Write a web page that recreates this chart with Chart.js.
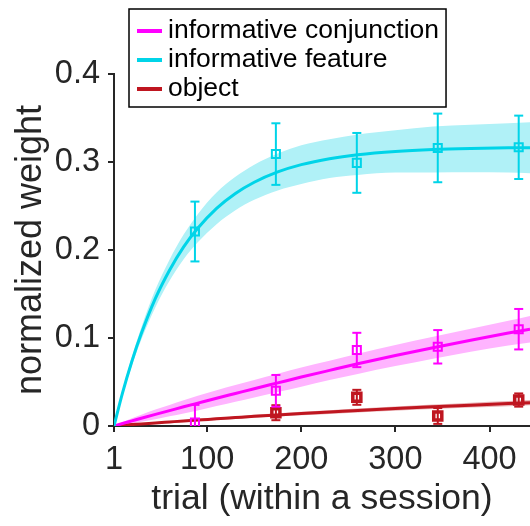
<!DOCTYPE html>
<html>
<head>
<meta charset="utf-8">
<script src="https://cdn.jsdelivr.net/npm/chart.js@4.4.1/dist/chart.umd.min.js"></script>
<style>
  html, body { margin: 0; padding: 0; background: #fff; }
  canvas { display: block; }
</style>
</head>
<body>
<canvas id="weightChart" width="530" height="526"></canvas>
<script>
// Fitted learning curves (trial grid) with confidence bands
const fitTrials = [1, 10, 20, 30, 45, 60, 75, 90, 110, 130, 150, 175, 200, 230, 260, 300, 340, 380, 420, 443];

const featureFit = [0, 0.0373, 0.0735, 0.105, 0.145, 0.177, 0.2035, 0.2247, 0.2473, 0.2642, 0.277, 0.2887, 0.297, 0.3038, 0.3083, 0.312, 0.3142, 0.3154, 0.3161, 0.3163];
const featureHi  = [0, 0.0403, 0.0785, 0.112, 0.155, 0.189, 0.2175, 0.2407, 0.2653, 0.2832, 0.297, 0.3097, 0.319, 0.3258, 0.3313, 0.336, 0.3402, 0.3424, 0.3441, 0.3453];
const featureLo  = [0, 0.0343, 0.0685, 0.098, 0.135, 0.165, 0.1895, 0.2087, 0.2293, 0.2452, 0.257, 0.2677, 0.275, 0.2818, 0.2853, 0.288, 0.2882, 0.2884, 0.2881, 0.2873];

const conjFit = [0, 0.0028, 0.0058, 0.0088, 0.0132, 0.0175, 0.0218, 0.026, 0.0316, 0.037, 0.0424, 0.049, 0.0556, 0.0632, 0.0707, 0.0801, 0.089, 0.0975, 0.1056, 0.110];
const conjHi  = [0, 0.0043, 0.0088, 0.0128, 0.0187, 0.024, 0.0293, 0.0345, 0.0406, 0.0465, 0.0524, 0.0595, 0.0666, 0.0742, 0.0822, 0.0921, 0.1015, 0.1105, 0.1196, 0.125];
const conjLo  = [0, 0.0013, 0.0028, 0.0048, 0.0077, 0.011, 0.0143, 0.0175, 0.0226, 0.0275, 0.0324, 0.0385, 0.0446, 0.0522, 0.0592, 0.0681, 0.0765, 0.0845, 0.0916, 0.095];

const objectFit = [0, 0.0008, 0.0016, 0.0023, 0.0035, 0.0046, 0.0057, 0.0067, 0.0082, 0.0096, 0.011, 0.0126, 0.0141, 0.0158, 0.0176, 0.0198, 0.0218, 0.0237, 0.0255, 0.0265];
const objectHi  = [0, 0.0011, 0.0021, 0.003, 0.0044, 0.0056, 0.0069, 0.008, 0.0097, 0.0112, 0.0127, 0.0145, 0.0161, 0.0179, 0.0198, 0.0222, 0.0244, 0.0265, 0.0285, 0.0295];
const objectLo  = [0, 0.0005, 0.0011, 0.0016, 0.0026, 0.0036, 0.0045, 0.0054, 0.0067, 0.008, 0.0093, 0.0107, 0.0121, 0.0137, 0.0154, 0.0174, 0.0192, 0.0209, 0.0225, 0.0235];

// Binned means +/- s.e.m.
const binTrials = [87, 173, 259, 345, 431];
const featureMean = [0.221, 0.309, 0.299, 0.316, 0.3167];
const featureErr  = [0.034, 0.035, 0.034, 0.039, 0.036];
const conjMean = [0.004, 0.040, 0.0864, 0.090, 0.110];
const conjErr  = [0.020, 0.018, 0.0195, 0.019, 0.023];
const objectMean = [null, 0.0151, 0.0326, 0.0114, 0.0295];
const objectErr  = [null, 0.0085, 0.0085, 0.009, 0.0075];

const xTickValues = [1, 100, 200, 300, 400];
const legendNames = ['informative conjunction', 'informative feature', 'object'];

const COL = {
    conj: '#ff00ff', conjBand: '#ffb4ff',
    feature: '#00d4e8', featureBand: '#b0f1f7',
    object: '#bf1620', objectBand: 'rgba(191,22,32,0.32)',
    axis: '#262626'
};
const legendColors = [COL.conj, COL.feature, COL.object];
const FONT = '"Liberation Sans", Arial, Helvetica, sans-serif';

const pts = (xs, ys) => xs.map((x, i) => ({ x, y: ys[i] }));

// vertical error bars: lo/hi pairs separated by gaps
const errorPts = (means, errs) => {
    const out = [];
    binTrials.forEach((x, i) => {
        if (means[i] === null) return;
        out.push({ x, y: means[i] - errs[i] }, { x, y: means[i] + errs[i] }, { x, y: null });
    });
    return out;
};

let order = 100;
const band = (hi, lo, color) => [
    { data: pts(fitTrials, hi), borderWidth: 0, pointRadius: 0, fill: false, cubicInterpolationMode: 'monotone', order: order-- },
    { data: pts(fitTrials, lo), borderWidth: 0, pointRadius: 0, fill: '-1', backgroundColor: color, cubicInterpolationMode: 'monotone', order: order-- }
];
const series = (fit, means, errs, color, markerWidth) => [
    { data: pts(fitTrials, fit), borderColor: color, borderWidth: 3, pointRadius: 0, cubicInterpolationMode: 'monotone', order: order-- },
    { data: errorPts(means, errs), borderColor: color, borderWidth: 2, spanGaps: false,
      pointStyle: 'line', pointRadius: 4.5, pointBorderWidth: 2, pointBorderColor: color,
      clip: { left: 10, right: 10, top: 10, bottom: 0 }, order: order-- },
    { data: pts(binTrials, means).filter(p => p.y !== null), showLine: false,
      pointStyle: 'rect', pointRadius: 5.7, pointBorderWidth: markerWidth, pointBorderColor: color,
      pointBackgroundColor: 'rgba(0,0,0,0)', clip: { left: 10, right: 10, top: 10, bottom: 0 }, order: order-- }
];

const datasets = [
    ...band(featureHi, featureLo, COL.featureBand),
    ...band(conjHi, conjLo, COL.conjBand),
    ...band(objectHi, objectLo, COL.objectBand),
    ...series(objectFit, objectMean, objectErr, COL.object, 3.5),
    ...series(conjFit, conjMean, conjErr, COL.conj, 2),
    ...series(featureFit, featureMean, featureErr, COL.feature, 2)
];

// boxed legend in the top-left corner
const boxLegend = {
    id: 'boxLegend',
    afterDraw(chart) {
        const ctx = chart.ctx;
        ctx.save();
        ctx.font = '26.5px ' + FONT;
        const textX = 168;
        const maxW = Math.max(...legendNames.map(n => ctx.measureText(n).width));
        const left = 129, top = 9, right = textX + maxW + 7, bottom = 107;
        ctx.fillStyle = '#fff';
        ctx.fillRect(left, top, right - left, bottom - top);
        ctx.strokeStyle = '#000';
        ctx.lineWidth = 1.5;
        ctx.strokeRect(left, top, right - left, bottom - top);
        const rows = [31, 60, 89];
        ctx.textBaseline = 'middle';
        legendNames.forEach((name, i) => {
            ctx.strokeStyle = legendColors[i];
            ctx.lineWidth = 4;
            ctx.beginPath();
            ctx.moveTo(137, rows[i]);
            ctx.lineTo(162, rows[i]);
            ctx.stroke();
            ctx.fillStyle = '#000';
            ctx.fillText(name, textX, rows[i]);
        });
        ctx.restore();
    }
};

const axisGrid = { display: true, drawOnChartArea: false, drawTicks: true, tickLength: 6, color: COL.axis, lineWidth: 2 };

new Chart(document.getElementById('weightChart'), {
    type: 'line',
    data: { datasets },
    options: {
        responsive: false,
        animation: false,
        layout: { autoPadding: false, padding: { top: 74, right: 0, bottom: 0, left: 0 } },
        plugins: { legend: { display: false }, tooltip: { enabled: false } },
        scales: {
            x: {
                type: 'linear', min: 1, max: 443,
                afterBuildTicks: s => { s.ticks = xTickValues.map(v => ({ value: v })); },
                afterFit: s => { s.height = 100; s.paddingLeft = 0; s.paddingRight = 0; },
                ticks: { font: { family: FONT, size: 32.5 }, color: COL.axis, padding: 9, maxRotation: 0 },
                grid: axisGrid,
                border: { display: true, color: COL.axis, width: 2 },
                title: { display: true, text: 'trial (within a session)', color: COL.axis,
                         font: { family: FONT, size: 35.5 }, padding: { bottom: 5 } }
            },
            y: {
                min: 0, max: 0.4,
                afterFit: s => { s.width = 114; s.paddingTop = 0; s.paddingBottom = 0; },
                ticks: { stepSize: 0.1, font: { family: FONT, size: 32.5 }, color: COL.axis, padding: 8 },
                grid: axisGrid,
                border: { display: true, color: COL.axis, width: 2 },
                title: { display: true, text: 'normalized weight', color: COL.axis,
                         font: { family: FONT, size: 36 }, padding: { top: 9 } }
            }
        }
    },
    plugins: [boxLegend]
});
</script>
</body>
</html>
